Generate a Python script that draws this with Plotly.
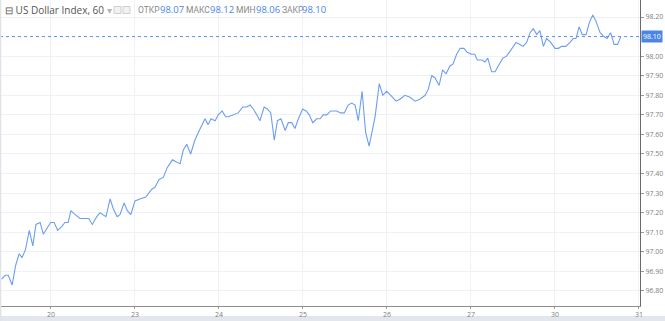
import plotly.graph_objects as go

# Hours relative to the start of day "20" (hourly bars, weekends removed)
hours = [-14.1, -13.1, -12.2, -11.1, -10.1, -9.1, -8.3, -7.3, -6.2, -5.2, -4.3, -3.1, -2.2, -1.1, -0.1,
         0.9, 1.9, 3.1, 4.0, 4.9, 5.7, 6.9, 8.3, 9.2, 10.0, 10.8, 11.8, 13.1, 14.0, 14.8, 15.7, 16.9,
         17.8, 18.9, 19.7, 20.9, 21.8, 22.8, 24.0, 25.4, 27.1, 28.8, 29.7, 30.9, 32.1, 33.2, 34.7,
         35.7, 36.9, 37.8, 38.8, 39.9, 41.1, 42.1, 43.1, 44.0, 44.9, 45.7, 46.9, 47.8, 48.9, 49.9,
         50.7, 52.1, 53.5, 54.8, 55.9, 56.9, 57.8, 58.8, 59.7, 60.9, 61.8, 62.8, 63.8, 64.7, 65.7,
         66.9, 67.8, 68.8, 69.7, 70.7, 71.9, 72.9, 73.8, 74.8, 75.9, 76.9, 77.8, 78.8, 79.9, 81.6,
         82.8, 83.8, 84.9, 85.9, 86.9, 87.8, 88.9, 89.9, 90.9, 92.6, 93.8, 94.8, 95.9, 97.1, 98.6,
         99.7, 101.1, 102.6, 104.0, 105.4, 106.9, 107.8, 108.8, 109.7, 110.9, 111.9, 112.9, 114.0,
         114.9, 115.9, 116.9, 118.0, 118.9, 120.2, 121.1, 121.8, 123.1, 124.0, 124.8, 125.9, 126.9,
         127.8, 129.1, 130.2, 131.4, 132.9, 134.0, 134.9, 135.9, 136.9, 137.8, 138.8, 139.7, 140.7,
         141.6, 142.8, 144.0, 145.0, 145.9, 147.1, 148.3, 149.2, 150.0, 150.9, 151.8, 152.9, 153.8,
         154.8, 155.7, 156.9, 158.0, 158.9, 159.9, 160.9, 161.9, 162.8]

prices = [96.86, 96.88, 96.88, 96.83, 96.93, 96.99, 96.97, 97.01, 97.11, 97.03, 97.14, 97.15, 97.09, 97.12, 97.15,
          97.15, 97.11, 97.13, 97.15, 97.15, 97.21, 97.19, 97.17, 97.17, 97.17, 97.17, 97.14, 97.18, 97.20, 97.19, 97.18, 97.27,
          97.22, 97.18, 97.19, 97.25, 97.21, 97.19, 97.26, 97.27, 97.28, 97.32, 97.33, 97.37, 97.38, 97.43, 97.47,
          97.46, 97.45, 97.52, 97.55, 97.50, 97.57, 97.61, 97.65, 97.68, 97.65, 97.68, 97.67, 97.70, 97.72, 97.69,
          97.69, 97.70, 97.71, 97.74, 97.74, 97.75, 97.73, 97.70, 97.67, 97.74, 97.73, 97.71, 97.57, 97.67, 97.68,
          97.62, 97.66, 97.66, 97.63, 97.68, 97.73, 97.72, 97.70, 97.66, 97.68, 97.68, 97.70, 97.70, 97.72, 97.72,
          97.71, 97.71, 97.75, 97.76, 97.75, 97.67, 97.82, 97.61, 97.54, 97.69, 97.86, 97.80, 97.82, 97.80, 97.77,
          97.78, 97.80, 97.79, 97.77, 97.78, 97.80, 97.83, 97.90, 97.89, 97.85, 97.93, 97.91, 97.95,
          97.96, 98.01, 98.04, 98.04, 98.02, 98.01, 98.01, 97.98, 97.98, 97.97, 97.99, 97.92, 97.92,
          97.95, 97.99, 98.00, 98.03, 98.07, 98.06, 98.05, 98.07, 98.12, 98.14, 98.11, 98.13, 98.05,
          98.09, 98.07, 98.04, 98.04, 98.05, 98.05, 98.07, 98.09, 98.09, 98.15, 98.11, 98.11, 98.17,
          98.21, 98.18, 98.12, 98.10, 98.09, 98.12, 98.06, 98.06, 98.10]

day_ticks = [0, 24, 48, 72, 96, 120, 144, 168]
day_labels = ["20", "23", "24", "25", "26", "27", "30", "31"]
# 98.10 is shown by the last-price marker on the axis instead of a plain tick label
y_ticks = [96.8, 96.9, 97.0, 97.1, 97.2, 97.3, 97.4, 97.5, 97.6, 97.7, 97.8, 97.9, 98.0, 98.2]

last_price = 98.10
ohlc_labels = ["ОТКР", "МАКС", "МИН", "ЗАКР"]
ohlc_values = ["98.07", "98.12", "98.06", "98.10"]

LINE = "#6d9ef1"
GRID = "#eef1f6"
FONT = "Open Sans"

fig = go.Figure()
fig.add_trace(go.Scatter(x=hours, y=prices, mode="lines",
                         line=dict(color=LINE, width=1.1), hoverinfo="skip"))

W_PLOT = 640.0
H_PLOT = 306.0

def px(x):
    return x / W_PLOT

def py(y):
    return (H_PLOT - y) / H_PLOT

fig.update_layout(
    width=665, height=321,
    margin=dict(l=0, r=25, t=0, b=15),
    paper_bgcolor="white", plot_bgcolor="white",
    showlegend=False,
    font=dict(family=FONT, size=7, color="#808080"),
    xaxis=dict(range=[-14.57, 168.3], tickvals=day_ticks, ticktext=day_labels,
               showgrid=True, gridcolor=GRID, gridwidth=1, zeroline=False,
               showline=True, linecolor="#8c8c8c", linewidth=1,
               ticks="outside", ticklen=2, tickcolor="#9a9a9a",
               tickfont=dict(size=7, color="#808080", family=FONT)),
    yaxis=dict(range=[96.723, 98.287], side="right", tickvals=y_ticks, tickformat=".2f",
               showgrid=True, gridcolor=GRID, gridwidth=1, zeroline=False,
               showline=True, linecolor="#6a6a6a", linewidth=1,
               ticks="outside", ticklen=3, tickcolor="#9a9a9a",
               tickfont=dict(size=7, color="#808080", family=FONT)),
)

# last price dotted line
fig.add_shape(type="line", xref="paper", yref="y", x0=0, x1=1, y0=last_price, y1=last_price,
              line=dict(color="#5b8def", width=1, dash="dot"))
# last price label on axis
fig.add_annotation(xref="paper", yref="y", x=px(641), y=last_price, xanchor="left", yanchor="middle",
                   text="98.10", showarrow=False, bgcolor="#4b86e6", borderpad=1,
                   font=dict(size=7, color="white", family=FONT))

# widget border lines
fig.add_shape(type="rect", xref="paper", yref="paper", x0=0, x1=665 / W_PLOT,
              y0=py(321), y1=py(316), fillcolor="#e3e6ec", line=dict(width=0), layer="below")
fig.add_shape(type="line", xref="paper", yref="paper", x0=0.0008, x1=0.0008,
              y0=py(321), y1=1, line=dict(color="#dfe2e8", width=1.5))

# header
fig.add_annotation(xref="paper", yref="paper", x=px(3), y=py(10), xanchor="left", yanchor="middle",
                   text="⊟ US Dollar Index, 60 <span style='color:#b5b5b5'>▾</span>", showarrow=False,
                   font=dict(size=10, color="#555555", family=FONT))
for x0 in (114, 123):
    fig.add_shape(type="rect", xref="paper", yref="paper", x0=px(x0), x1=px(x0 + 7),
                  y0=py(13.5), y1=py(6.5), line=dict(color="#cfcfcf", width=1), fillcolor="#f2f2f2")

label_x = [136, 184, 234, 280]
value_x = [158, 208, 254, 300]
for lab, val, lx, vx in zip(ohlc_labels, ohlc_values, label_x, value_x):
    fig.add_annotation(xref="paper", yref="paper", x=px(lx), y=py(10), xanchor="left", yanchor="middle",
                       text=lab, showarrow=False, font=dict(size=8.5, color="#8a8a8a", family="Roboto"))
    fig.add_annotation(xref="paper", yref="paper", x=px(vx), y=py(10), xanchor="left", yanchor="middle",
                       text=val, showarrow=False, font=dict(size=9.5, color="#4a86e8", family=FONT))

fig.write_html("out.html")
